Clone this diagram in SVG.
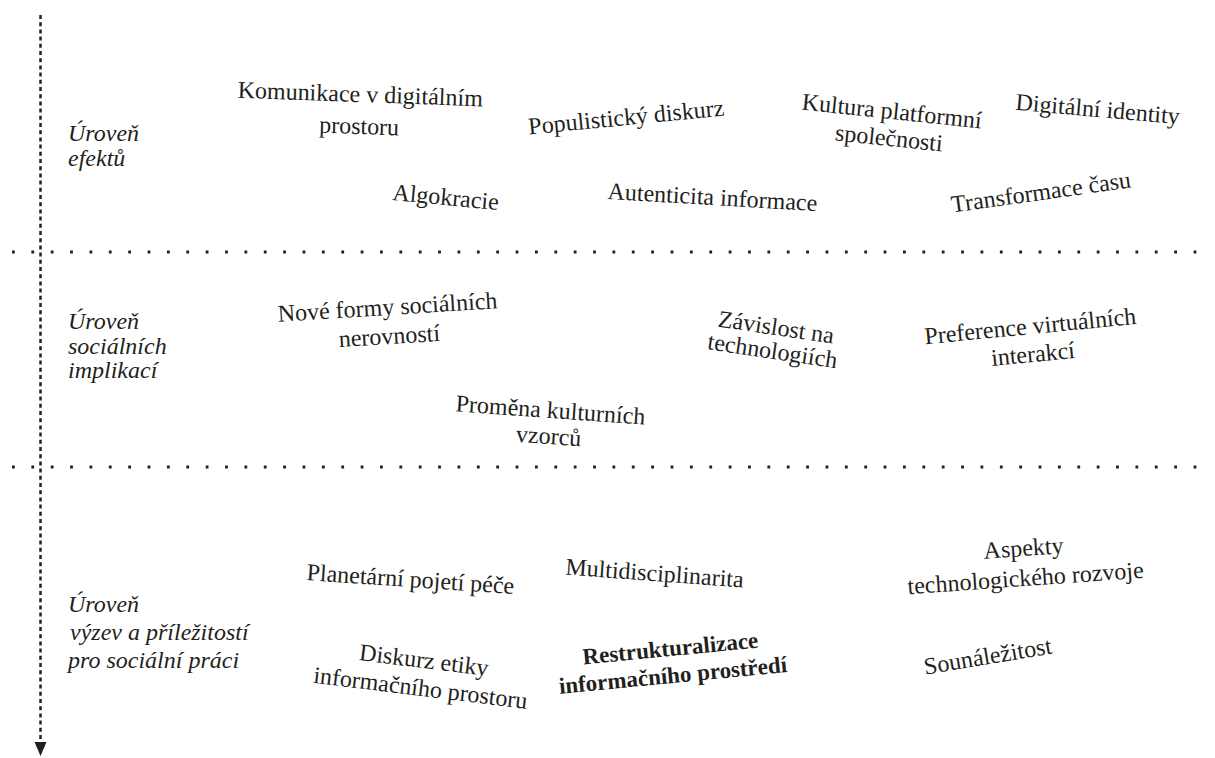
<svg xmlns="http://www.w3.org/2000/svg" width="1215" height="758" viewBox="0 0 1215 758">
<style>
.t{font-family:"Liberation Serif","Times New Roman",serif;font-size:24px;fill:#231f20;text-anchor:middle}
.b{font-weight:bold;font-size:23px}
.lv{font-family:"Liberation Serif","Times New Roman",serif;font-size:24px;font-style:italic;fill:#231f20}
.dot{stroke:#231f20;stroke-width:2.8;stroke-dasharray:2.8 16.57;fill:none}
.axis{stroke:#231f20;stroke-width:2.5;stroke-dasharray:4 3.2;fill:none}
</style>
<rect width="1215" height="758" fill="#ffffff"/>
<g id="connectors">
<line class="dot" x1="12" y1="252" x2="1205" y2="252"/>
<line class="dot" x1="12" y1="467" x2="1205" y2="467"/>
<line class="axis" x1="40.5" y1="15" x2="40.5" y2="743"/>
<polygon points="34.5,742 46.5,742 40.5,756" fill="#231f20"/>
</g>
<g id="level-effects"><text class="lv" x="68"><tspan x="68" y="141">Úroveň</tspan><tspan x="68" y="166">efektů</tspan></text></g>
<g id="level-social"><text class="lv" x="68"><tspan x="68" y="329">Úroveň</tspan><tspan x="68" y="354">sociálních</tspan><tspan x="68" y="378">implikací</tspan></text></g>
<g id="level-challenges"><text class="lv" x="68"><tspan x="68" y="612">Úroveň</tspan><tspan x="70" y="640">výzev a příležitostí</tspan><tspan x="68" y="668">pro sociální práci</tspan></text></g>
<g id="n-komunikace" transform="rotate(2 360 102)"><text class="t" x="360" y="102">Komunikace v digitálním<tspan x="360" dy="32">prostoru</tspan></text></g>
<g id="n-algokracie" transform="rotate(5.5 445 205)"><text class="t" x="445" y="205">Algokracie</text></g>
<g id="n-populisticky" transform="rotate(-5.5 627 125)"><text class="t" x="627" y="125">Populistický diskurz</text></g>
<g id="n-autenticita" transform="rotate(3.3 712 205)"><text class="t" x="712" y="205">Autenticita informace</text></g>
<g id="n-kultura" transform="rotate(6 891 119)"><text class="t" x="891" y="119">Kultura platformní<tspan x="891" dy="27">společnosti</tspan></text></g>
<g id="n-identity" transform="rotate(5 1097 117)"><text class="t" x="1097" y="117">Digitální identity</text></g>
<g id="n-cas" transform="rotate(-8 1042 200)"><text class="t" x="1042" y="200">Transformace času</text></g>
<g id="n-nerovnosti" transform="rotate(-3.5 388 315)"><text class="t" x="388" y="315">Nové formy sociálních<tspan x="388" dy="29">nerovností</tspan></text></g>
<g id="n-promena" transform="rotate(4 550 418)"><text class="t" x="550" y="418">Proměna kulturních<tspan x="550" dy="26">vzorců</tspan></text></g>
<g id="n-zavislost" transform="rotate(8.5 775 335)"><text class="t" x="775" y="335">Závislost na<tspan x="775" dy="24">technologiích</tspan></text></g>
<g id="n-preference" transform="rotate(-5.5 1031 334)"><text class="t" x="1031" y="334">Preference virtuálních<tspan x="1031" dy="28">interakcí</tspan></text></g>
<g id="n-planetarni" transform="rotate(3.8 410 587)"><text class="t" x="410" y="587">Planetární pojetí péče</text></g>
<g id="n-multi" transform="rotate(4.2 654 581)"><text class="t" x="654" y="581">Multidisciplinarita</text></g>
<g id="n-diskurz" transform="rotate(7 423 668)"><text class="t" x="423" y="668">Diskurz etiky<tspan x="423" dy="28">informačního prostoru</tspan></text></g>
<g id="n-restruktur" transform="rotate(-5.5 671 656)"><text class="t b" x="671" y="656">Restrukturalizace<tspan x="671" dy="27">informačního prostředí</tspan></text></g>
<g id="n-aspekty" transform="rotate(-4 1024 556)"><text class="t" x="1024" y="556">Aspekty<tspan x="1024" dy="30">technologického rozvoje</tspan></text></g>
<g id="n-sounalezitost" transform="rotate(-9.5 989 664)"><text class="t" x="989" y="664">Sounáležitost</text></g>
</svg>
